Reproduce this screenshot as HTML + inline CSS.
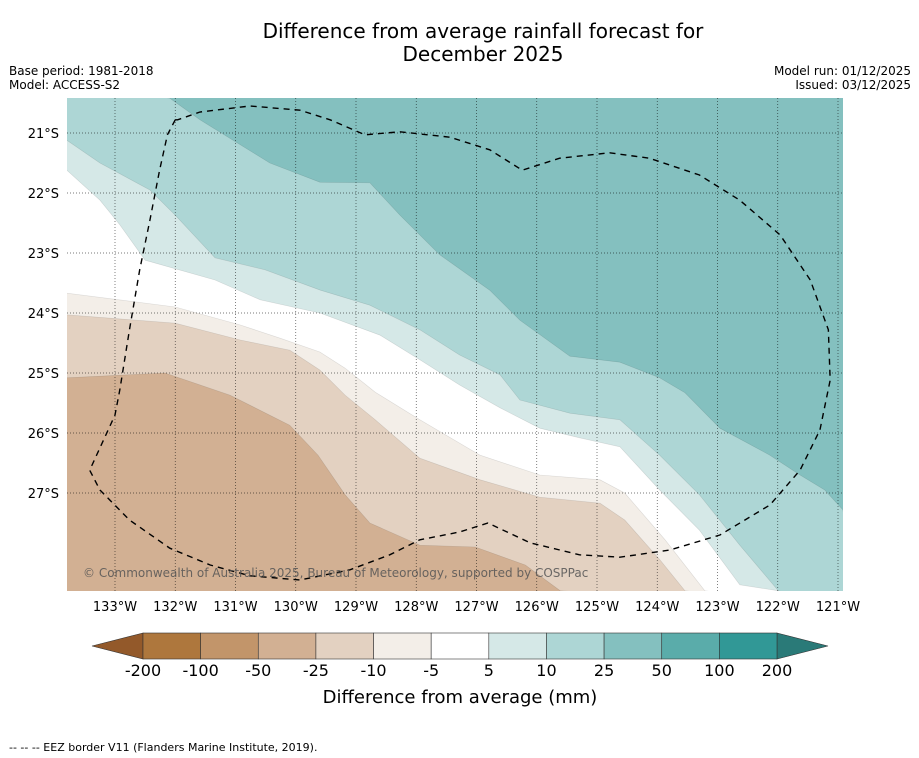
<!DOCTYPE html>
<html><head><meta charset="utf-8"><style>
body{margin:0;background:#fff;font-family:"Liberation Sans","DejaVu Sans",sans-serif}
svg{display:block}
</style></head><body>
<svg id="chart" width="919" height="758" xmlns="http://www.w3.org/2000/svg" font-family="DejaVu Sans, Liberation Sans, sans-serif">
<text x="483" y="38" font-size="20" text-anchor="middle">Difference from average rainfall forecast for</text>
<text x="483" y="61" font-size="20" text-anchor="middle">December 2025</text>
<text x="9" y="75" font-size="12">Base period: 1981-2018</text>
<text x="9" y="89" font-size="12">Model: ACCESS-S2</text>
<text x="911" y="75" font-size="12" text-anchor="end">Model run: 01/12/2025</text>
<text x="911" y="89" font-size="12" text-anchor="end">Issued: 03/12/2025</text>
<g id="map"></g>
<g id="cbar"></g>
<text x="460" y="703" font-size="18" text-anchor="middle">Difference from average (mm)</text>
<text x="9" y="751" font-size="11">--  --  -- EEZ border V11 (Flanders Marine Institute, 2019).</text>
</svg>
<script>
// axis: degrees West (x) and degrees South (y)
const lonTicks=[133,132,131,130,129,128,127,126,125,124,123,122,121];
const latTicks=[21,22,23,24,25,26,27];
const levelLabels=["-200","-100","-50","-25","-10","-5","5","10","25","50","100","200"];
const levelColors=["#AE773D","#C2956A","#D2B093","#E3D1C1","#F3EEE8","#FFFFFF","#D5E8E7","#ADD6D5","#84C0BF","#5AACAA","#319896"];
const extendColors=["#93592A","#2A7A78"];
// contour boundaries [degW, degS]
const bAbove25neg=[[133.8,25.08],[132.17,25.0],[131.09,25.37],[130.1,25.87],[129.63,26.37],[129.18,27.03],[128.77,27.5],[127.94,27.87],[127.02,27.9],[126.19,28.2],[125.61,28.63]];
const bAbove10neg=[[133.8,24.03],[132.0,24.17],[130.92,24.45],[130.1,24.62],[129.6,24.95],[129.18,25.37],[128.68,25.78],[127.94,26.42],[126.94,26.78],[125.95,27.07],[124.95,27.17],[124.54,27.45],[123.95,28.12],[123.54,28.63]];
const bAbove5neg=[[133.8,23.67],[132.0,23.9],[130.92,24.2],[130.26,24.42],[129.6,24.65],[129.18,24.92],[128.68,25.32],[127.94,25.78],[126.94,26.37],[125.95,26.7],[124.95,26.78],[124.54,27.0],[123.87,27.78],[123.21,28.63]];
const bAbove5=[[133.8,21.62],[133.25,22.12],[132.92,22.53],[132.5,23.12],[131.34,23.45],[130.59,23.78],[129.6,24.0],[128.6,24.37],[127.94,24.78],[127.28,25.2],[126.61,25.58],[125.95,25.92],[125.29,26.08],[124.62,26.23],[123.96,26.95],[123.3,27.62],[122.63,28.53],[121.99,28.63]];
const bAbove10=[[133.8,21.12],[133.25,21.5],[132.42,21.95],[132.0,22.37],[131.34,23.08],[130.51,23.28],[129.59,23.62],[128.77,23.87],[127.94,24.28],[127.28,24.7],[126.61,25.03],[126.28,25.45],[125.45,25.67],[124.62,25.78],[123.96,26.37],[123.3,27.03],[122.63,27.87],[121.99,28.63]];
const bAbove25=[[132.09,20.42],[131.59,20.78],[130.43,21.5],[129.6,21.82],[128.77,21.83],[128.27,22.37],[127.61,23.03],[126.78,23.62],[126.28,24.12],[125.45,24.72],[124.62,24.82],[123.96,25.08],[123.54,25.33],[122.96,25.92],[122.13,26.37],[121.63,26.7],[121.22,26.95],[120.92,27.28]];
const eez=[[132.0,20.78],[132.13,21.03],[132.26,21.62],[132.42,22.45],[132.59,23.28],[132.76,24.28],[132.92,25.28],[133.0,25.7],[133.42,26.62],[133.25,26.95],[132.76,27.45],[132.09,27.92],[131.42,28.2],[130.76,28.38],[129.93,28.45],[129.1,28.28],[128.44,28.03],[127.94,27.78],[127.28,27.65],[126.81,27.5],[126.11,27.83],[125.29,28.03],[124.62,28.07],[123.79,27.95],[122.96,27.7],[122.13,27.2],[121.63,26.62],[121.3,25.95],[121.13,25.12],[121.16,24.28],[121.46,23.45],[121.96,22.7],[122.63,22.12],[123.3,21.7],[124.13,21.42],[124.79,21.33],[125.62,21.42],[126.24,21.62],[126.78,21.28],[127.44,21.07],[128.27,20.98],[128.85,21.03],[129.43,20.78],[129.93,20.62],[130.76,20.55],[131.59,20.65],[131.96,20.78]];
const X=w=>115+(133-w)*60.25, Y=s=>133+(s-21)*60;
const L=67,R=843,T=98,B=591,NS="http://www.w3.org/2000/svg";
const map=document.getElementById('map'),cb=document.getElementById('cbar');
function mk(t,a,p){const e=document.createElementNS(NS,t);for(const k in a)e.setAttribute(k,a[k]);(p||map).appendChild(e);return e;}
const cp=mk('clipPath',{id:'clip'});mk('rect',{x:L,y:T,width:R-L,height:B-T},cp);
const g=mk('g',{'clip-path':'url(#clip)'});
const base=mk('rect',{x:L,y:T,width:R-L,height:B-T,fill:levelColors[2]},g);


const bounds=[bAbove25neg,bAbove10neg,bAbove5neg,bAbove5,bAbove10,bAbove25];
const names=['region-minus25-minus10','region-minus10-minus5','region-minus5-5','region-5-10','region-10-25','region-25-50'];
bounds.forEach((b,i)=>{
  const pts=b.map(p=>X(p[0])+','+Y(p[1]));
  pts.push((R+20)+','+(B+20),(R+20)+','+(T-20),(L-20)+','+(T-20));
  const poly=mk('polygon',{points:pts.join(' '),fill:levelColors[3+i],stroke:'rgba(0,0,0,0.12)','stroke-width':0.6},g);
  
  
});
lonTicks.forEach(w=>{
  const l=mk('line',{x1:X(w),x2:X(w),y1:T,y2:B,stroke:'#000','stroke-width':0.7,'stroke-dasharray':'1,2','stroke-opacity':0.7});
  
  
  const t=mk('text',{x:X(w),y:611,'font-size':13,'text-anchor':'middle'});t.textContent=w+'°W';
  
  
});
latTicks.forEach(s=>{
  const l=mk('line',{x1:L,x2:R,y1:Y(s),y2:Y(s),stroke:'#000','stroke-width':0.7,'stroke-dasharray':'1,2','stroke-opacity':0.7});
  
  
  const t=mk('text',{x:59,y:Y(s)+5,'font-size':13,'text-anchor':'end'});t.textContent=s+'°S';
  
  
});
const ez=mk('polygon',{points:eez.map(p=>X(p[0])+','+Y(p[1])).join(' '),fill:'none',stroke:'#000','stroke-width':1.4,'stroke-dasharray':'6,5'},g);


const cr=mk('text',{x:83,y:577,'font-size':12,fill:'#555','fill-opacity':0.85});cr.textContent='© Commonwealth of Australia 2025, Bureau of Meteorology, supported by COSPPac';


// colorbar
const cx0=143,cx1=777,cy=633,ch=26,n=levelColors.length,bw=(cx1-cx0)/n;
const lt=mk('polygon',{points:`${cx0},${cy} 92,${cy+ch/2} ${cx0},${cy+ch}`,fill:extendColors[0],stroke:'#333','stroke-width':0.6},cb);


const rt=mk('polygon',{points:`${cx1},${cy} 828,${cy+ch/2} ${cx1},${cy+ch}`,fill:extendColors[1],stroke:'#333','stroke-width':0.6},cb);


levelColors.forEach((c,i)=>{
  const r=mk('rect',{x:cx0+i*bw,y:cy,width:bw,height:ch,fill:c,stroke:'#333','stroke-width':0.6},cb);
  
  
});
levelLabels.forEach((s,i)=>{
  const t=mk('text',{x:cx0+i*bw,y:676,'font-size':16,'text-anchor':'middle'},cb);t.textContent=s;
  
  
});
</script>
</body></html>
